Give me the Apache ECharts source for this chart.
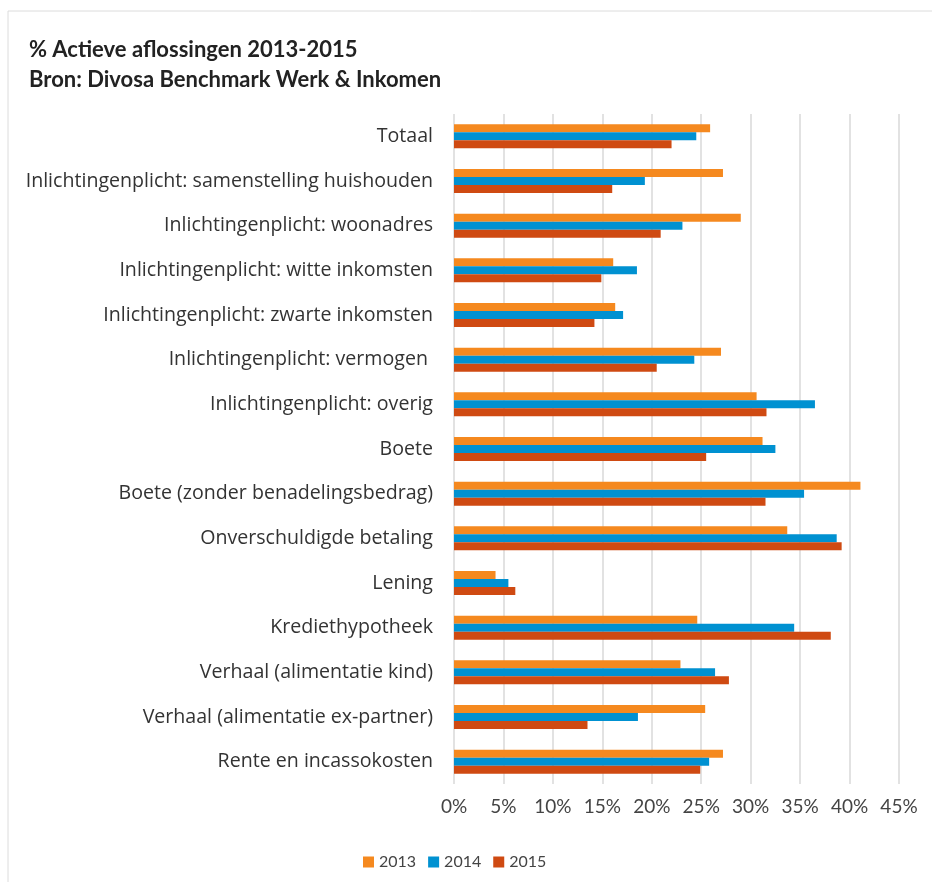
<!DOCTYPE html>
<html>
<head>
<meta charset="utf-8">
<script src="https://cdn.jsdelivr.net/npm/echarts@6/dist/echarts.min.js"></script>
<style>
  html, body { margin: 0; padding: 0; background: #fff; }
  #chart { width: 932px; height: 882px; }
</style>
</head>
<body>
<div id="chart"></div>
<script>
// categories, top to bottom
var categories = [
  'Totaal',
  'Inlichtingenplicht: samenstelling huishouden',
  'Inlichtingenplicht: woonadres',
  'Inlichtingenplicht: witte inkomsten',
  'Inlichtingenplicht: zwarte inkomsten',
  'Inlichtingenplicht: vermogen ',
  'Inlichtingenplicht: overig',
  'Boete',
  'Boete (zonder benadelingsbedrag)',
  'Onverschuldigde betaling',
  'Lening',
  'Krediethypotheek',
  'Verhaal (alimentatie kind)',
  'Verhaal (alimentatie ex-partner)',
  'Rente en incassokosten'
]
var years = ['2013', '2014', '2015']
var values2013 = [25.9, 27.2, 29.0, 16.1, 16.3, 27.0, 30.6, 31.2, 41.1, 33.7, 4.2, 24.6, 22.9, 25.4, 27.2]
var values2014 = [24.5, 19.3, 23.1, 18.5, 17.1, 24.3, 36.5, 32.5, 35.4, 38.7, 5.5, 34.4, 26.4, 18.6, 25.8]
var values2015 = [22.0, 16.0, 20.9, 14.9, 14.2, 20.5, 31.6, 25.5, 31.5, 39.2, 6.2, 38.1, 27.8, 13.5, 24.9]
var colors = ['#f5891f', '#0091d1', '#cf4a12']

var font = 'Lato, "Open Sans", sans-serif'
var labelFont = '"Open Sans", Lato, sans-serif'

function bar (name, data, color) {
  return {
    name: name,
    type: 'bar',
    barWidth: 8,
    barGap: '0%',
    itemStyle: { color: color },
    data: data
  }
}

var chart = echarts.init(document.getElementById('chart'))
chart.setOption({
  animation: false,
  textStyle: { fontFamily: font },
  graphic: [{
    type: 'rect',
    shape: { x: 8, y: 11, width: 1000, height: 1000 },
    style: { fill: 'none', stroke: '#dcdcdc', lineWidth: 1 }
  }],
  title: {
    text: '% Actieve aflossingen 2013-2015\nBron: Divosa Benchmark Werk & Inkomen',
    left: 24,
    top: 30,
    textStyle: { fontFamily: font, fontSize: 22, fontWeight: 'bold', color: '#222', lineHeight: 30 }
  },
  legend: {
    data: years,
    left: 358,
    top: 849,
    itemWidth: 11,
    itemHeight: 11,
    itemGap: 12,
    icon: 'rect',
    textStyle: { fontFamily: font, fontSize: 16, color: '#444' }
  },
  grid: { left: 454, right: 33, top: 114, bottom: 98 },
  xAxis: {
    type: 'value',
    min: 0,
    max: 45,
    interval: 5,
    axisLine: { show: false },
    axisTick: { show: false },
    splitLine: { lineStyle: { color: '#d9d9d9', width: 1.5 } },
    axisLabel: {
      formatter: '{value}%',
      fontFamily: font,
      fontSize: 19,
      color: '#444',
      margin: 13
    }
  },
  yAxis: {
    type: 'category',
    inverse: true,
    data: categories,
    axisLine: { show: false },
    axisTick: { show: false },
    axisLabel: { fontFamily: labelFont, fontSize: 19.6, color: '#333', margin: 21 }
  },
  series: [
    bar(years[0], values2013, colors[0]),
    bar(years[1], values2014, colors[1]),
    bar(years[2], values2015, colors[2])
  ]
})
</script>
</body>
</html>
